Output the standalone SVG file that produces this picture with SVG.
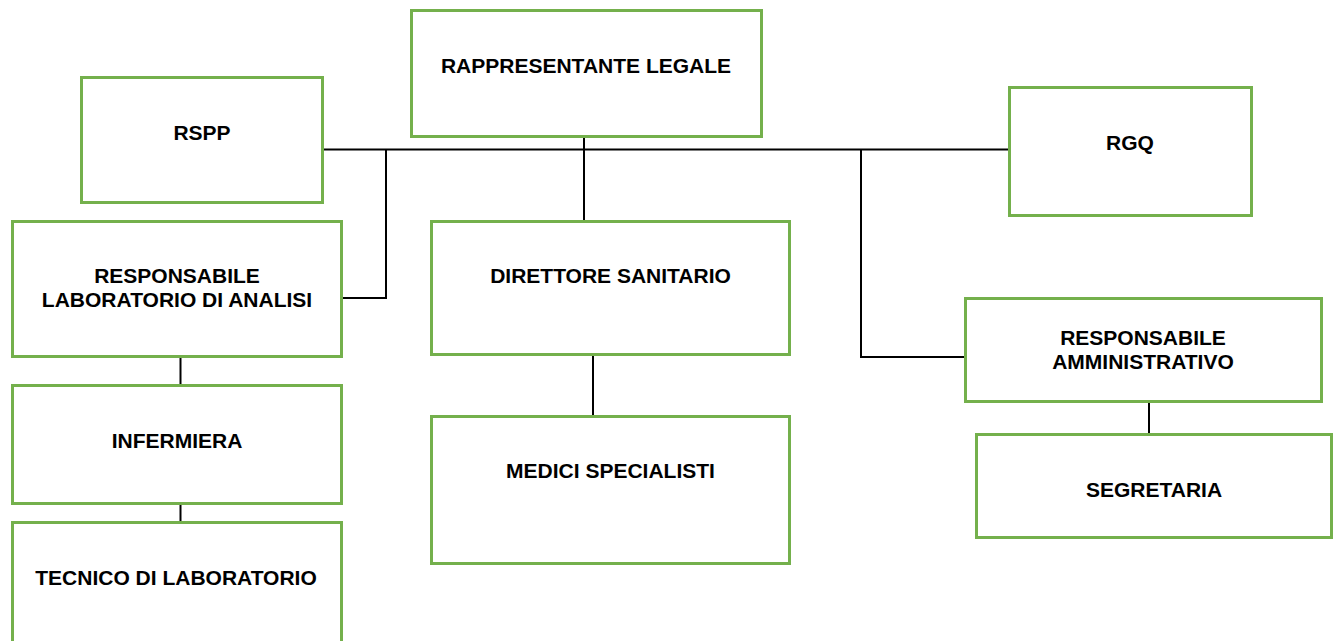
<svg xmlns="http://www.w3.org/2000/svg" width="1338" height="641" viewBox="0 0 1338 641">
<style>
.box{fill:#fff;stroke:#74b04c;stroke-width:3}
.t{font-family:"Liberation Sans",Arial,sans-serif;font-weight:bold;font-size:21px;fill:#000;text-anchor:middle}
.c{fill:none;stroke:#000;stroke-width:2}
</style>
<rect width="1338" height="641" fill="#fff"/>
<g id="connectors">
<path class="c" d="M323 149.5H1008"/>
<path class="c" d="M386 149.5V298H342"/>
<path class="c" d="M584 137V220"/>
<path class="c" d="M861 149.5V357H965"/>
<path class="c" d="M1149 402V434"/>
<path class="c" d="M180.5 357V384"/>
<path class="c" d="M180.5 503V521"/>
<path class="c" d="M593 355V416"/>
</g>
<g id="n-rappresentante">
<rect class="box" x="411.5" y="10.5" width="350" height="126"/>
<text class="t" x="586" y="73">RAPPRESENTANTE LEGALE</text>
</g>
<g id="n-rspp">
<rect class="box" x="81.5" y="77.5" width="241" height="125"/>
<text class="t" x="202" y="140">RSPP</text>
</g>
<g id="n-rgq">
<rect class="box" x="1009.5" y="87.5" width="242" height="128"/>
<text class="t" x="1130" y="150">RGQ</text>
</g>
<g id="n-resp-lab">
<rect class="box" x="12.5" y="221.5" width="329" height="135"/>
<text class="t" x="177" y="283">RESPONSABILE</text>
<text class="t" x="177" y="307">LABORATORIO DI ANALISI</text>
</g>
<g id="n-direttore">
<rect class="box" x="431.5" y="221.5" width="358" height="133"/>
<text class="t" x="610.5" y="283">DIRETTORE SANITARIO</text>
</g>
<g id="n-resp-amm">
<rect class="box" x="965.5" y="298.5" width="356" height="103"/>
<text class="t" x="1143" y="345">RESPONSABILE</text>
<text class="t" x="1143" y="369">AMMINISTRATIVO</text>
</g>
<g id="n-infermiera">
<rect class="box" x="12.5" y="385.5" width="329" height="118"/>
<text class="t" x="177" y="448">INFERMIERA</text>
</g>
<g id="n-medici">
<rect class="box" x="431.5" y="416.5" width="358" height="147"/>
<text class="t" x="610.5" y="478">MEDICI SPECIALISTI</text>
</g>
<g id="n-segretaria">
<rect class="box" x="976.5" y="434.5" width="355" height="103"/>
<text class="t" x="1154" y="497">SEGRETARIA</text>
</g>
<g id="n-tecnico">
<rect class="box" x="12.5" y="522.5" width="329" height="130"/>
<text class="t" x="176" y="585">TECNICO DI LABORATORIO</text>
</g>
</svg>
